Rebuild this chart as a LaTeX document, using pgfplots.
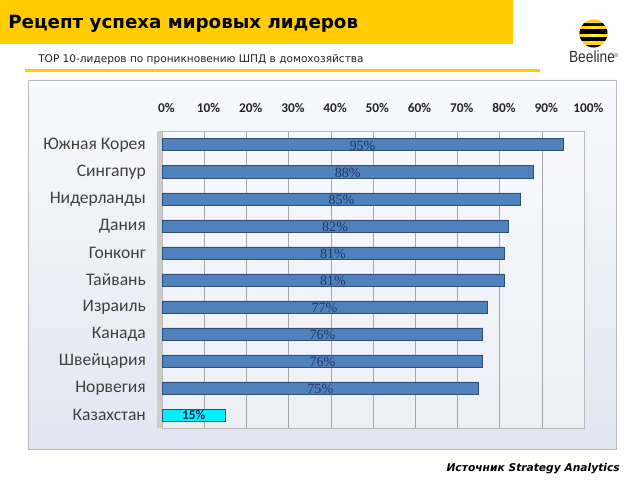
\documentclass[border=0pt]{standalone}
\usepackage{fontspec}
\setmainfont{Carlito}
\newfontfamily\dejavu{DejaVu Sans}
\newfontfamily\lserif{Liberation Serif}
\newfontfamily\lsans{Liberation Sans}
\usepackage{pgfplots}
\usepackage{pgfplotstable}
\pgfplotsset{compat=1.18}
\definecolor{byellow}{HTML}{FFCC00}
\definecolor{barblue}{HTML}{4F81BD}
\definecolor{baredge}{HTML}{2F4F7A}
\definecolor{lblblue}{HTML}{1F3864}
\definecolor{txtgray}{HTML}{404040}
\definecolor{bgtop}{HTML}{F8F9FC}
\definecolor{bgbot}{HTML}{E2E6F2}
\definecolor{kazcyan}{HTML}{00F0FF}

\pgfplotstableread{
idx v
0 95
1 88
2 85
3 82
4 81
5 81
6 77
7 76
8 76
9 75
}\leaders
\pgfplotstableread{
idx v
10 15
}\kaz

\begin{document}
\begin{tikzpicture}[x=0.025cm,y=0.025cm]
\path[use as bounding box, fill=white] (0,0) rectangle (640,480);
% header
\fill[byellow] (0,480) rectangle (513,436);
\node[anchor=base west, inner sep=0pt, font=\dejavu\bfseries\fontsize{13}{15}\selectfont] at (8,480-29) {Рецепт успеха мировых лидеров};
\node[anchor=base west, inner sep=0pt, font=\dejavu\fontsize{7.5}{9}\selectfont, text=black!85] at (38,480-63) {TOP 10-лидеров по проникновению ШПД в домохозяйства};
\fill[byellow] (25,480-69.5) rectangle (540,480-72.5);
% logo
\begin{scope}
\clip (593.5,446.5) circle (14);
\shade[inner color=yellow!70!white, outer color=byellow!85!orange] (578,431) rectangle (609,462);
\fill[black] (578,480-23) rectangle (609,480-26);
\fill[black] (578,480-29.5) rectangle (609,480-34);
\fill[black] (578,480-37.5) rectangle (609,480-41.5);
\fill[black] (578,480-45) rectangle (609,480-48);
\end{scope}
\node[anchor=base, inner sep=0pt, xscale=0.85, font=\lsans\fontsize{11.5}{13}\selectfont, text=black!80] at (592,480-63) {Beeline};
\node[anchor=base west, inner sep=0pt, font=\lsans\fontsize{4}{5}\selectfont, text=black!70] at (614,480-58) {®};
% chart frame
\shade[top color=bgtop, bottom color=bgbot, draw=gray!55] (28,480-80) rectangle (616,480-449);
% footer
\node[anchor=base east, inner sep=0pt, font=\dejavu\bfseries\itshape\fontsize{7.6}{9}\selectfont] at (620,480-472) {Источник Strategy Analytics};

\begin{axis}[
  at={(4.05cm,1.2875cm)}, anchor=south west,
  scale only axis, width=10.55cm, height=7.425cm,
  xmin=0, xmax=100, ymin=-0.5, ymax=10.5, y dir=reverse,
  xtick={0,10,...,100},
  xticklabel={\pgfmathprintnumber{\tick}\%},
  /pgf/number format/assume math mode=true,
  xticklabel pos=upper,
  xticklabel style={font=\bfseries\fontsize{9.5}{11}\selectfont, text=black!85, yshift=10pt, xshift=3pt},
  ytick={0,...,10},
  yticklabels={Южная Корея,Сингапур,Нидерланды,Дания,Гонконг,Тайвань,Израиль,Канада,Швейцария,Норвегия,Казахстан},
  yticklabel style={font=\fontsize{12.5}{14}\selectfont, text=txtgray, xshift=-8pt},
  major tick length=0pt,
  xmajorgrids, grid style={gray!70, line width=0.5pt},
  axis line style={gray!55},
  axis background/.style={fill=white, fill opacity=0.35},
  clip=false,
]
\fill[gray!40] (rel axis cs:0,0) rectangle ([xshift=-3.5pt]rel axis cs:0,1);
\addplot[xbar, bar width=0.3cm, bar shift=0pt, fill=barblue, draw=baredge, line width=0.6pt] table[x=v, y=idx] {\leaders};
\addplot[xbar, bar width=0.3cm, bar shift=0pt, fill=kazcyan, draw=baredge, line width=0.6pt] table[x=v, y=idx] {\kaz};
\addplot[draw=none, mark=none, point meta=\thisrow{v},
  nodes near coords={\pgfmathprintnumber{\pgfplotspointmeta}\%},
  nodes near coords style={anchor=center, yshift=-0.5pt, font=\lserif\fontsize{10}{11}\selectfont, text=lblblue}]
  table[x expr=\thisrow{v}/2, y=idx] {\leaders};
\addplot[draw=none, mark=none, point meta=\thisrow{v},
  nodes near coords={\pgfmathprintnumber{\pgfplotspointmeta}\%},
  nodes near coords style={anchor=center, font=\bfseries\fontsize{9.5}{10}\selectfont, text=lblblue!80!black}]
  table[x expr=\thisrow{v}/2, y=idx] {\kaz};
\end{axis}
\end{tikzpicture}
\end{document}
